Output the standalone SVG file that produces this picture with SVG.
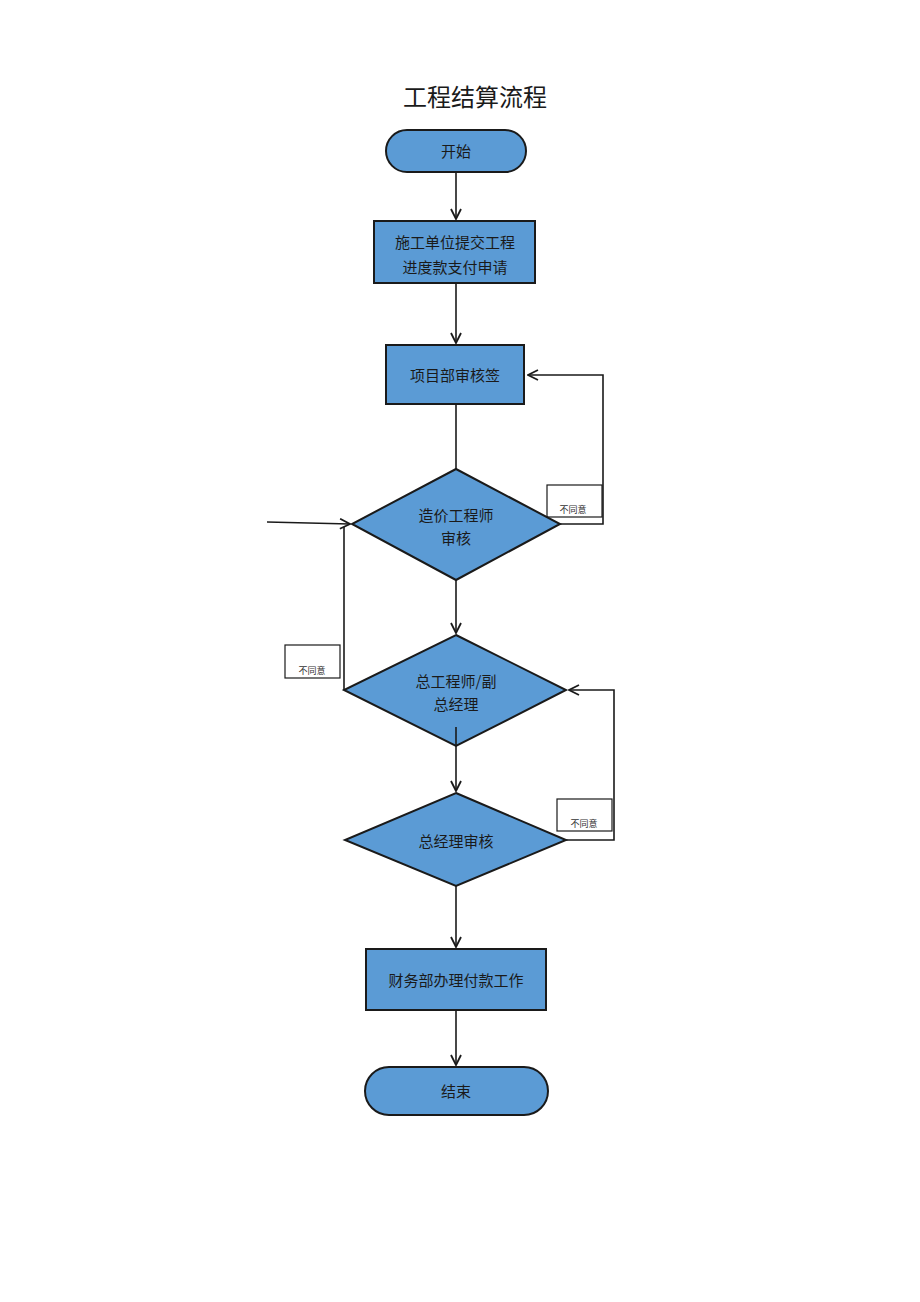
<svg xmlns="http://www.w3.org/2000/svg" width="920" height="1302" viewBox="0 0 920 1302">
<style>
.n{fill:#5B9BD5;stroke:#1a1a1a;stroke-width:2}
.t{font-family:"Noto Sans CJK SC","Noto Sans",sans-serif;font-size:15px;fill:#1a1a1a;text-anchor:middle}
.s{font-family:"Noto Sans CJK SC","Noto Sans",sans-serif;font-size:9px;fill:#333;text-anchor:middle}
.c{fill:none;stroke:#1a1a1a;stroke-width:1.6}
.lb{fill:#fff;stroke:#1a1a1a;stroke-width:1.2}
</style>
<defs>
<marker id="a" viewBox="0 0 12 12" refX="11" refY="6" markerWidth="12" markerHeight="12" markerUnits="userSpaceOnUse" orient="auto">
<path d="M1,1 L11,6 L1,11" fill="none" stroke="#1a1a1a" stroke-width="1.8"/>
</marker>
</defs>
<rect width="920" height="1302" fill="#fff"/>
<text x="475" y="106" font-family="'Noto Sans CJK SC',sans-serif" font-size="24" fill="#1a1a1a" text-anchor="middle">工程结算流程</text>
<g id="lbl1"><rect class="lb" x="547" y="485" width="55" height="32"/><text class="s" x="573" y="513">不同意</text></g>
<g id="lbl2"><rect class="lb" x="285" y="645" width="55" height="33"/><text class="s" x="312" y="674">不同意</text></g>
<g id="lbl3"><rect class="lb" x="557" y="799" width="55" height="32"/><text class="s" x="584" y="827">不同意</text></g>
<g id="start"><rect class="n" x="386" y="130" width="140" height="42" rx="21"/><text class="t" x="456" y="157">开始</text></g>
<g id="submit"><rect class="n" x="374" y="221" width="161" height="62"/><text class="t" x="455" y="248">施工单位提交工程</text><text class="t" x="455" y="273">进度款支付申请</text></g>
<g id="pm"><rect class="n" x="386" y="345" width="138" height="59"/><text class="t" x="455" y="381">项目部审核签</text></g>
<g id="cost"><polygon class="n" points="456,469 560,524 456,580 352,524"/><text class="t" x="456" y="521">造价工程师</text><text class="t" x="456" y="544">审核</text></g>
<g id="chief"><polygon class="n" points="456,635 566,690 456,746 344,690"/><text class="t" x="456" y="687">总工程师/副</text><text class="t" x="456" y="710">总经理</text></g>
<g id="gm"><polygon class="n" points="456,793 566,840 456,886 345,840"/><text class="t" x="456" y="847">总经理审核</text></g>
<g id="finance"><rect class="n" x="366" y="949" width="180" height="61"/><text class="t" x="456" y="986">财务部办理付款工作</text></g>
<g id="end"><rect class="n" x="365" y="1067" width="183" height="48" rx="24"/><text class="t" x="456" y="1097">结束</text></g>
<g id="connectors">
<path class="c" d="M456,172 V219" marker-end="url(#a)"/>
<path class="c" d="M456,283 V343" marker-end="url(#a)"/>
<path class="c" d="M456,404 V469"/>
<path class="c" d="M456,580 V633" marker-end="url(#a)"/>
<path class="c" d="M456,727 V791" marker-end="url(#a)"/>
<path class="c" d="M456,886 V947" marker-end="url(#a)"/>
<path class="c" d="M456,1010 V1065" marker-end="url(#a)"/>
<path class="c" d="M560,524 H603 V375 H528" marker-end="url(#a)"/>
<path class="c" d="M267,522 L350,524" marker-end="url(#a)"/>
<path class="c" d="M344,690 V527"/>
<path class="c" d="M566,840 H614 V690 H569" marker-end="url(#a)"/>
</g>
</svg>
